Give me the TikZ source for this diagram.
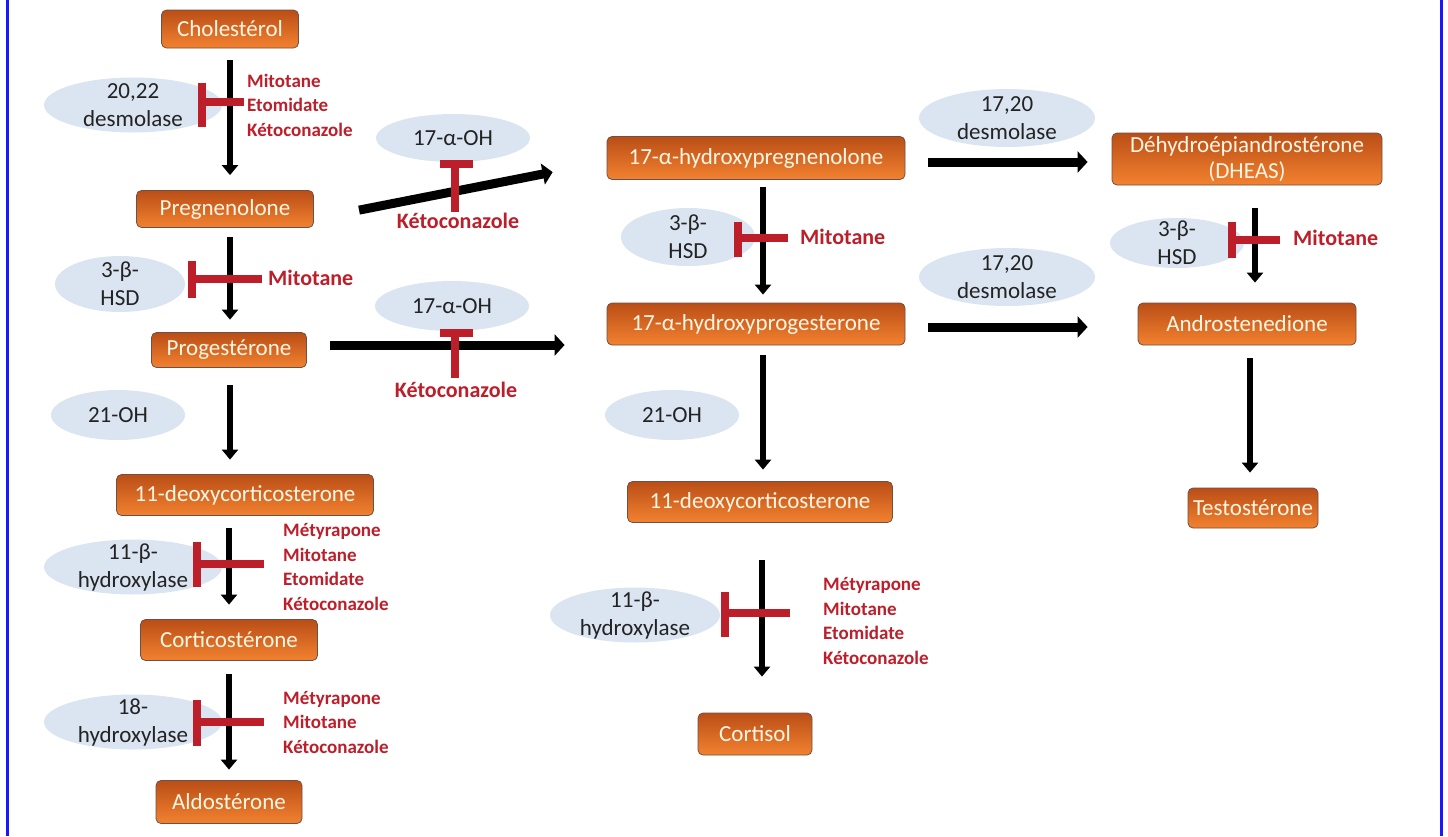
\documentclass[tikz,border=0pt]{standalone}
\usepackage{fontspec}
\setmainfont{Carlito}
\usetikzlibrary{arrows.meta,shapes.geometric,calc}
\definecolor{boxtop}{RGB}{186,78,22}
\definecolor{boxbot}{RGB}{242,130,48}
\definecolor{boxline}{RGB}{110,80,70}
\definecolor{boxtext}{RGB}{255,246,228}
\definecolor{enzfill}{RGB}{219,229,241}
\definecolor{enztext}{RGB}{35,35,35}
\definecolor{drugred}{RGB}{188,30,42}
\definecolor{frameblue}{RGB}{25,25,255}
\tikzset{
  box/.style={rectangle, rounded corners=5pt, draw=boxline, line width=0.8pt,
    top color=boxtop, bottom color=boxbot, text=boxtext,
    font=\fontsize{23}{26}\selectfont, align=center, inner sep=0pt},
  enzbg/.style={fill=enzfill, draw=none},
  enzlabel/.style={text=enztext, font=\fontsize{23}{28}\selectfont, align=center, inner sep=0pt},
  druglist/.style={text=drugred, font=\bfseries\fontsize{19}{24.5}\selectfont, align=left, anchor=west, inner sep=0pt},
  drugone/.style={text=drugred, font=\bfseries\fontsize{22}{26}\selectfont, inner sep=0pt},
  varr/.style={draw=black, line width=6.5pt, -{Triangle[width=16pt,length=10pt]}},
  harr/.style={draw=black, line width=9pt, -{Triangle[width=21pt,length=10pt]}},
  inh/.style={draw=drugred, line width=8pt},
  frame/.style={draw=frameblue, line width=3pt}
}
\newcommand{\enzyme}[6]{% name, x, y, rx, ry, text
  \fill[enzbg] (#2,#3) ellipse [x radius=#4pt, y radius=#5pt];
  \node[enzlabel] (#1) at (#2,#3) {#6};
}
\begin{document}
\begin{tikzpicture}[x=1pt,y=-1pt]
\useasboundingbox (0,0) rectangle (1448,836);
\draw[frame] (7.5,0) -- (7.5,836);
\draw[frame] (1441.5,0) -- (1441.5,836);

% enzymes (ellipses)
\enzyme{e1}{133}{105}{89}{27.5}{20,22\\desmolase}
\enzyme{e2}{120}{284}{65}{28}{3-β-\\HSD}
\enzyme{e3}{118}{415}{67}{25}{21-OH}
\enzyme{e4}{133}{567}{89}{27.5}{11-β-\\hydroxylase}
\enzyme{e5}{133}{722}{89}{27.5}{18-\\hydroxylase}
\enzyme{e6}{453}{138}{77}{24}{17-α-OH}
\enzyme{e7}{452}{306}{77}{25}{17-α-OH}
\enzyme{e8}{688}{237}{67}{29}{3-β-\\HSD}
\enzyme{e9}{672}{415}{67}{25}{21-OH}
\enzyme{e10}{635}{615}{85}{27.5}{11-β-\\hydroxylase}
\enzyme{e11}{1007}{118}{88}{29}{17,20\\desmolase}
\enzyme{e12}{1007}{277}{88}{29}{17,20\\desmolase}
\enzyme{e13}{1177}{243}{67}{25}{3-β-\\HSD}

% metabolites
\node[box, minimum width=137pt, minimum height=38pt] (chol) at (230,29) {Cholestérol};
\node[box, minimum width=177pt, minimum height=37pt] (preg) at (225,209) {Pregnenolone};
\node[box, minimum width=155pt, minimum height=35pt] (prog) at (229,350) {Progestérone};
\node[box, minimum width=257pt, minimum height=41pt] (doc1) at (245,495) {11-deoxycorticosterone};
\node[box, minimum width=177pt, minimum height=41pt] (cort) at (229,640) {Corticostérone};
\node[box, minimum width=146pt, minimum height=43pt] (aldo) at (229,802) {Aldostérone};
\node[box, minimum width=298pt, minimum height=43pt] (hpreg) at (756,158) {17-α-hydroxypregnenolone};
\node[box, minimum width=298pt, minimum height=42pt] (hprog) at (756,324) {17-α-hydroxyprogesterone};
\node[box, minimum width=265pt, minimum height=41pt] (doc2) at (760,502) {11-deoxycorticosterone};
\node[box, minimum width=114pt, minimum height=42pt] (cortisol) at (755,734) {Cortisol};
\node[box, minimum width=270pt, minimum height=52pt] (dheas) at (1247,159) {Déhydroépiandrostérone\\(DHEAS)};
\node[box, minimum width=218pt, minimum height=42pt] (andro) at (1247,324) {Androstenedione};
\node[box, minimum width=130pt, minimum height=40pt] (testo) at (1253,508) {Testostérone};

% vertical arrows
\draw[varr, shorten <=12pt, shorten >=15pt] (chol.south) -- (chol.south |- preg.north);
\draw[varr, shorten <=9.5pt, shorten >=12.5pt] ([xshift=5pt]preg.south) -- ([xshift=5pt]preg.south |- prog.north);
\draw[varr, shorten <=17.5pt, shorten >=14.5pt] ([xshift=1pt]prog.south) -- ([xshift=1pt]prog.south |- doc1.north);
\draw[varr, shorten <=12.5pt, shorten >=14.5pt] (doc1.south -| cort.north) -- (cort.north);
\draw[varr, shorten <=13.5pt, shorten >=10.5pt] (cort.south) -- (cort.south |- aldo.north);
\draw[varr, shorten <=7.5pt, shorten >=8pt] ([xshift=7pt]hpreg.south) -- ([xshift=7pt]hpreg.south |- hprog.north);
\draw[varr, shorten <=10pt, shorten >=11.5pt] ([xshift=7pt]hprog.south) -- ([xshift=7pt]hprog.south |- doc2.north);
\draw[varr, shorten <=37.5pt, shorten >=36pt] ([xshift=2pt]doc2.south) -- ([xshift=2pt]doc2.south |- cortisol.north);
\draw[varr, shorten <=23pt, shorten >=20pt] ([xshift=8pt]dheas.south) -- ([xshift=8pt]dheas.south |- andro.north);
\draw[varr, shorten <=13pt, shorten >=15pt] ([xshift=3pt]andro.south) -- ([xshift=3pt]andro.south |- testo.north);

% horizontal / diagonal arrows
\draw[harr, shorten <=46pt, shorten >=55pt] ([yshift=-10pt]preg.east) -- ([yshift=-3.5pt]hpreg.west);
\draw[harr, shorten <=23.5pt, shorten >=42pt] ([yshift=5pt]prog.east) -- ([yshift=5pt]prog.east -| hprog.west);
\draw[harr, shorten <=23pt, shorten >=24pt] ([yshift=-4pt]hpreg.east) -- ([yshift=-4pt]hpreg.east -| dheas.west);
\draw[harr, shorten <=23pt, shorten >=50pt] ([yshift=-3pt]hprog.east) -- ([yshift=-3pt]hprog.east -| andro.west);

% inhibition bars
\draw[inh] (202,83) -- (202,127);  \draw[inh] (202,102) -- (244,102);
\draw[inh] (192,261) -- (192,298); \draw[inh] (192,279) -- (262,279);
\draw[inh] (440,164) -- (473,164); \draw[inh] (455,164) -- (455,212);
\draw[inh] (440,333) -- (473,333); \draw[inh] (455,333) -- (455,378);
\draw[inh] (738,222) -- (738,257); \draw[inh] (738,238) -- (788,238);
\draw[inh] (197,542) -- (197,587); \draw[inh] (197,564) -- (264,564);
\draw[inh] (197,700) -- (197,746); \draw[inh] (197,722) -- (264,722);
\draw[inh] (725,592) -- (725,637); \draw[inh] (725,613) -- (790,613);
\draw[inh] (1232,222) -- (1232,258); \draw[inh] (1232,240) -- (1280,240);

% drugs
\node[druglist] (d1) at (247,105) {Mitotane\\Etomidate\\Kétoconazole};
\node[drugone, anchor=west] (d2) at (268,278) {Mitotane};
\node[drugone] (d3) at (458,221) {Kétoconazole};
\node[drugone] (d4) at (456,390) {Kétoconazole};
\node[drugone, anchor=west] (d5) at (800,237) {Mitotane};
\node[druglist] (d6) at (283,567) {Métyrapone\\Mitotane\\Etomidate\\Kétoconazole};
\node[druglist] (d7) at (283,722) {Métyrapone\\Mitotane\\Kétoconazole};
\node[druglist] (d8) at (823,621) {Métyrapone\\Mitotane\\Etomidate\\Kétoconazole};
\node[drugone, anchor=west] (d9) at (1293,238) {Mitotane};
\end{tikzpicture}
\end{document}
